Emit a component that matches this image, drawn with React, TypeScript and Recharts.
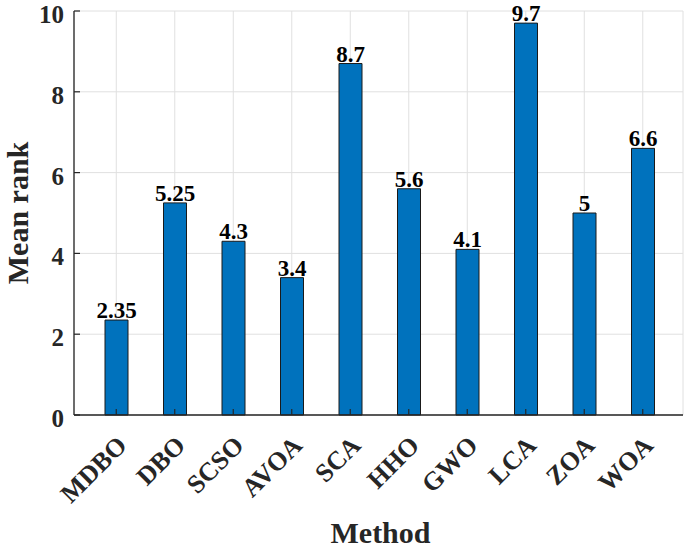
import React from 'react';
import { BarChart, Bar, XAxis, YAxis, CartesianGrid, LabelList } from 'recharts';

const methods = ['MDBO', 'DBO', 'SCSO', 'AVOA', 'SCA', 'HHO', 'GWO', 'LCA', 'ZOA', 'WOA'];
const meanRank = [2.35, 5.25, 4.3, 3.4, 8.7, 5.6, 4.1, 9.7, 5, 6.6];
const yTicks = [0, 2, 4, 6, 8, 10];

const data = methods.map((m, i) => ({ method: m, rank: meanRank[i] }));

const W = 685;
const H = 551;
const FONT = "'Liberation Serif', 'Times New Roman', Times, serif";
const INK = '#262626';
const TICK = 6;

const txt = (size: number, color = INK) => ({
  fontFamily: FONT,
  fontWeight: 700,
  fontSize: size,
  fill: color,
});

// bottom labels rotated like matlab's XTickLabelRotation = 45
const BottomTick = (props: any) => {
  const { x, y, payload } = props;
  const ax = x + 12;
  const ay = y + 32;
  return (
    <g>
      <line x1={x} y1={y} x2={x} y2={y - TICK} stroke={INK} strokeWidth={1.2} />
      <text x={ax} y={ay} transform={`rotate(-45, ${ax}, ${ay})`} textAnchor="end" style={txt(26)}>
        {payload.value}
      </text>
    </g>
  );
};

const TopTick = (props: any) => {
  const { x, y } = props;
  return <line x1={x} y1={y} x2={x} y2={y + TICK} stroke={INK} strokeWidth={1.2} />;
};

const LeftTick = (props: any) => {
  const { x, y, payload } = props;
  return (
    <g>
      <line x1={x} y1={y} x2={x + TICK} y2={y} stroke={INK} strokeWidth={1.2} />
      <text x={x - 10} y={y + 12} textAnchor="end" style={txt(25)}>
        {payload.value}
      </text>
    </g>
  );
};

const RightTick = (props: any) => {
  const { x, y } = props;
  return <line x1={x} y1={y} x2={x - TICK} y2={y} stroke={INK} strokeWidth={1.2} />;
};

const YTitle = (props: any) => {
  const { viewBox } = props;
  const cy = viewBox.y + viewBox.height / 2;
  const bx = 28;
  return (
    <text x={bx} y={cy} transform={`rotate(-90, ${bx}, ${cy})`} textAnchor="middle" style={txt(30)}>
      Mean rank
    </text>
  );
};

const XTitle = (props: any) => {
  const { viewBox } = props;
  const cx = viewBox.x + viewBox.width / 2;
  return (
    <text x={cx + 2} y={H - 8} textAnchor="middle" style={txt(30)}>
      Method
    </text>
  );
};

export default function App() {
  return (
    <div style={{ position: 'absolute', left: 0, top: 0, width: W, height: H, background: '#fff' }}>
      <BarChart width={W} height={H} data={data} margin={{ top: 11, right: 2, left: 0, bottom: 0 }}>
        <CartesianGrid stroke="#e0e0e0" strokeWidth={1} />
        <XAxis
          dataKey="method"
          height={136}
          padding={{ left: 13, right: 11 }}
          tickSize={0}
          tickMargin={0}
          tick={<BottomTick />}
          axisLine={{ stroke: INK, strokeWidth: 1.3 }}
          interval={0}
          label={{ content: <XTitle /> }}
        />
        <XAxis
          xAxisId="top"
          dataKey="method"
          orientation="top"
          height={0}
          padding={{ left: 13, right: 11 }}
          tickSize={0}
          tickMargin={0}
          tick={<TopTick />}
          axisLine={{ stroke: INK, strokeWidth: 1.3 }}
          interval={0}
        />
        <YAxis
          width={74}
          domain={[0, 10]}
          ticks={yTicks}
          tickSize={0}
          tickMargin={0}
          tick={<LeftTick />}
          axisLine={{ stroke: INK, strokeWidth: 1.3 }}
          label={{ content: <YTitle /> }}
        />
        <YAxis
          yAxisId="right"
          orientation="right"
          width={0}
          domain={[0, 10]}
          ticks={yTicks}
          tickSize={0}
          tickMargin={0}
          tick={<RightTick />}
          axisLine={{ stroke: INK, strokeWidth: 1.3 }}
        />
        <Bar dataKey="rank" fill="#0072BD" stroke="#1a1a1a" strokeWidth={1} barSize={23} isAnimationActive={false}>
          <LabelList dataKey="rank" position="top" offset={2} style={txt(23, '#000')} />
        </Bar>
      </BarChart>
    </div>
  );
}
